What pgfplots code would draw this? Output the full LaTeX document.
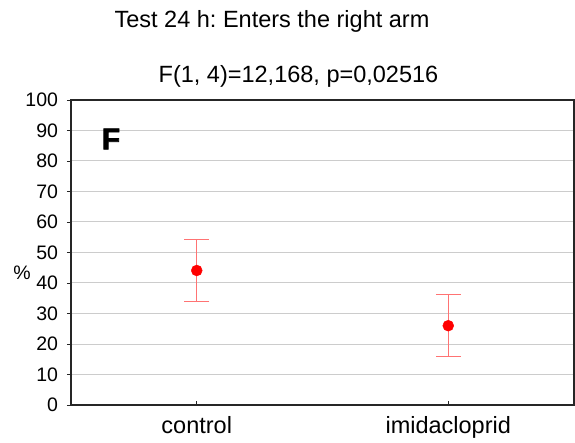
\documentclass[border=0pt]{standalone}
\usepackage{fontspec}
\setmainfont{Liberation Sans}
\newfontfamily\heavyfont{Liberation Sans Bold}[FakeBold=2.5]
\usepackage{pgfplots}
\pgfplotsset{compat=1.18}
\begin{document}
\frenchspacing
\fontsize{23.5bp}{28bp}\selectfont
\begin{tikzpicture}
% frame of the page: axis box is (0,0)-(503bp,305bp)
\path[use as bounding box] (-71bp,-38bp) rectangle (504bp,405bp);
\begin{axis}[
    at={(0,0)}, anchor=south west,
    width=503bp, height=305bp, scale only axis,
    xmin=0.5, xmax=2.5,
    ymin=0, ymax=100,
    xtick={1,2},
    xticklabels={control, imidacloprid},
    ytick={0,10,...,100},
    ymajorgrids=true,
    grid style={gray!40, line width=1bp},
    axis line style={black!85, line width=1.1bp},
    tick style={black!85, line width=0.8bp},
    major tick length=4bp,
    xtick pos=bottom, ytick pos=left,
    xtick align=inside, ytick align=outside,
    yticklabel style={font=\fontsize{19.5bp}{23bp}\selectfont, xshift=-1bp},
    xticklabel style={font=\fontsize{23.5bp}{28bp}\selectfont, anchor=base, yshift=-28bp},
    /pgf/number format/assume math mode=true,
]
\addplot[only marks, mark=*, mark size=5.5bp, color=red,
    error bars/.cd, y dir=both, y explicit,
    error bar style={red!55, line width=1.1bp},
    error mark options={rotate=90, mark size=12.5bp, red!55, line width=1.1bp}]
    coordinates {
    (1,44.1) +- (0,10.2)
    (2,26.0) +- (0,10.2)
    };
\end{axis}
\node[anchor=base] at (201bp,377bp) {Test 24 h: Enters the right arm};
\node[anchor=base] at (227.5bp,322bp) {F(1, 4)=12,168, p=0,02516};
\node at (40bp,266bp) {\fontsize{30bp}{34bp}\heavyfont F};
\node at (-49bp,132bp) {\fontsize{19.5bp}{23bp}\selectfont\%};
\end{tikzpicture}
\end{document}
